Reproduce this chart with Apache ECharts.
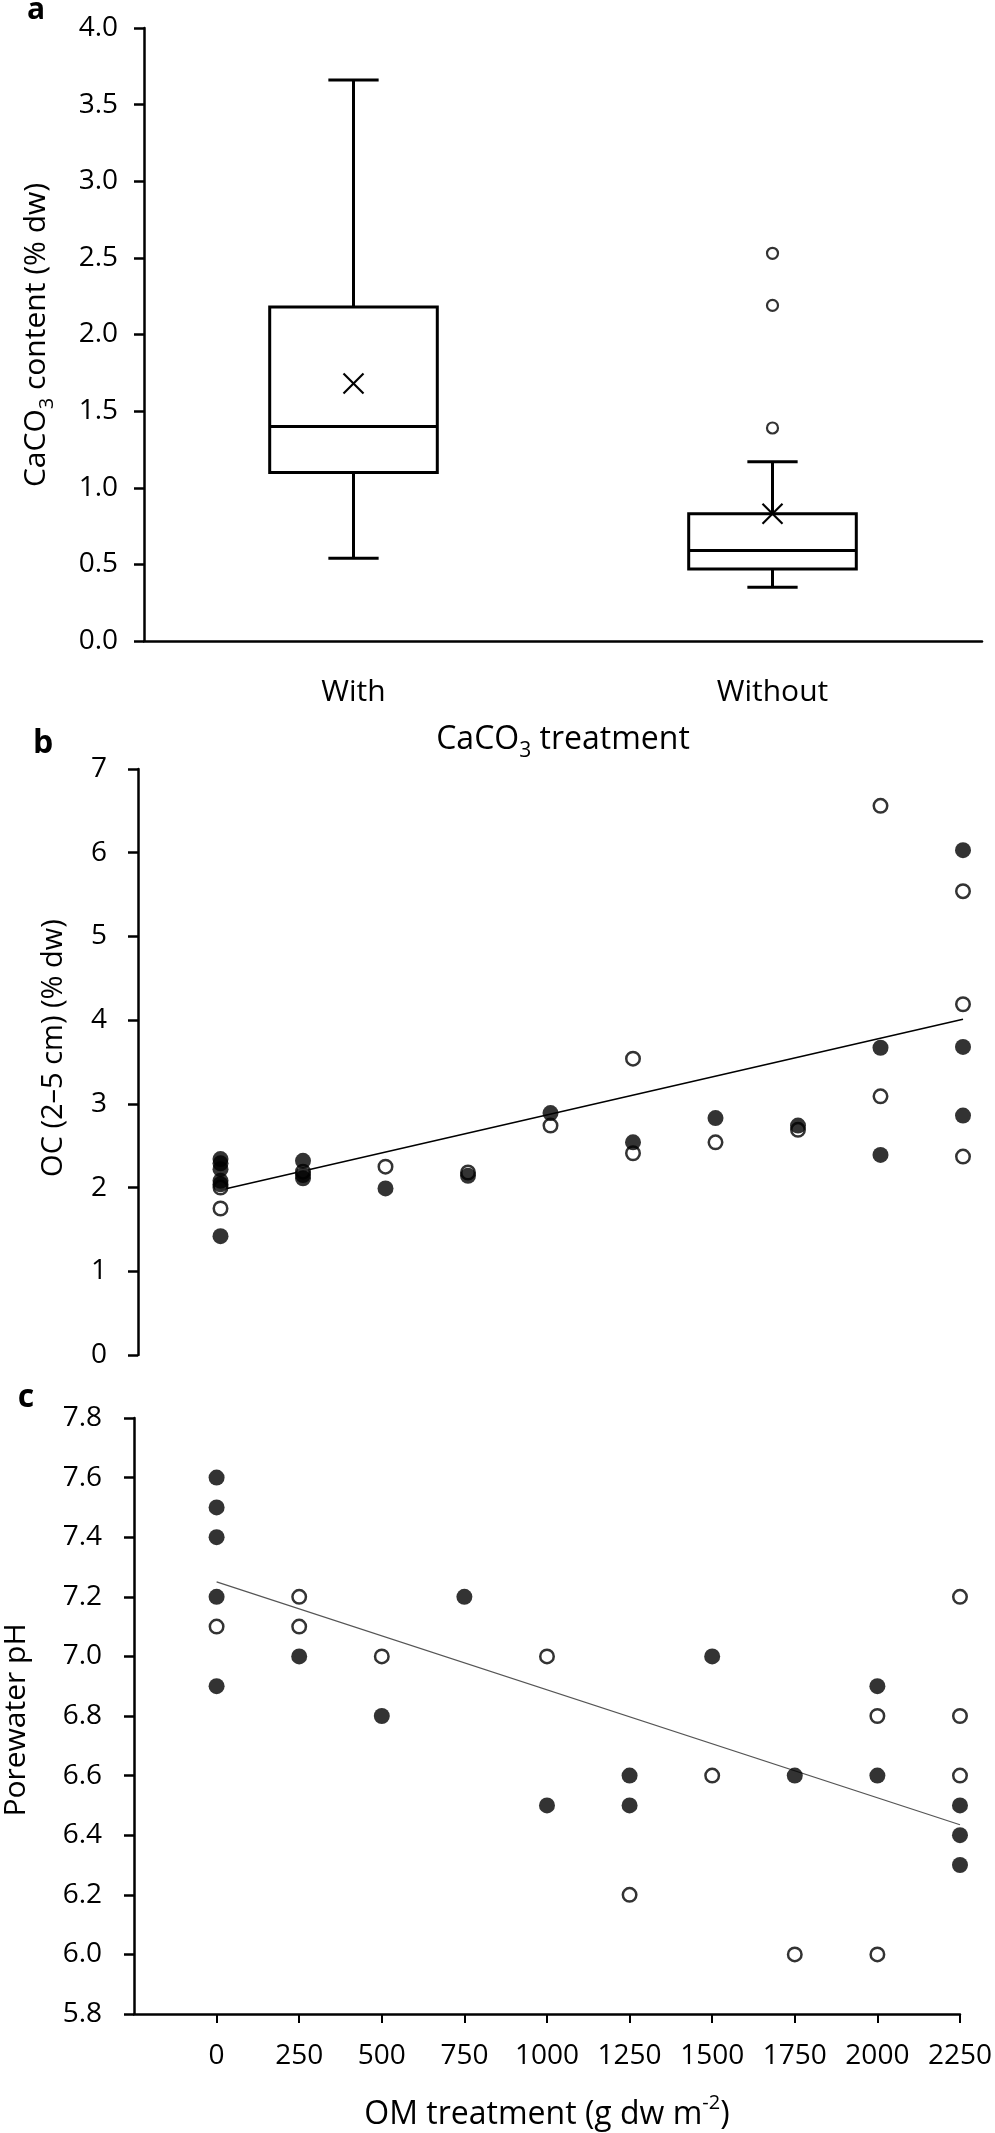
<!DOCTYPE html>
<html><head><meta charset="utf-8">
<script src="https://cdn.jsdelivr.net/npm/echarts@6/dist/echarts.min.js"></script>
<style>html,body{margin:0;padding:0;background:#fff}#c{width:995px;height:2133px}</style>
</head><body><div id="c"></div>
<script>
// ---------- Panel a: CaCO3 content box plots ----------
const boxCategories = ['With', 'Without'];
const boxMin    = [0.54, 0.35];
const boxQ1     = [1.10, 0.47];
const boxMedian = [1.40, 0.59];
const boxQ3     = [2.18, 0.83];
const boxMax    = [3.66, 1.17];
const boxMean   = [1.68, 0.83];
const outlierCategory = ['Without', 'Without', 'Without'];
const outlierValues   = [2.53, 2.19, 1.39];

// ---------- shared x ticks (OM treatment) ----------
const omTicks = [0, 250, 500, 750, 1000, 1250, 1500, 1750, 2000, 2250];

// ---------- Panel b: OC (2-5 cm) ----------
const ocFilledX = [0, 0, 0, 0, 0, 0, 250, 250, 250, 500, 750, 1000, 1250, 1500, 1750, 2000, 2000, 2250, 2250, 2250];
const ocFilledY = [2.34, 2.29, 2.22, 2.08, 2.04, 1.42, 2.32, 2.15, 2.11, 1.99, 2.14, 2.89, 2.54, 2.83, 2.74, 3.67, 2.39, 6.03, 3.68, 2.86];
const ocOpenX = [0, 0, 250, 500, 750, 1000, 1250, 1250, 1500, 1750, 2000, 2000, 2250, 2250, 2250];
const ocOpenY = [2.00, 1.75, 2.19, 2.25, 2.18, 2.74, 3.54, 2.41, 2.54, 2.69, 6.56, 3.09, 5.54, 4.19, 2.37];
const ocTrendX = [0, 2250];
const ocTrendY = [1.97, 4.01];

// ---------- Panel c: Porewater pH ----------
const phFilledX = [0, 0, 0, 0, 0, 250, 500, 750, 1000, 1250, 1250, 1500, 1750, 2000, 2000, 2250, 2250, 2250];
const phFilledY = [7.6, 7.5, 7.4, 7.2, 6.9, 7.0, 6.8, 7.2, 6.5, 6.6, 6.5, 7.0, 6.6, 6.9, 6.6, 6.5, 6.4, 6.3];
const phOpenX = [0, 250, 250, 500, 1000, 1250, 1500, 1750, 2000, 2000, 2250, 2250, 2250];
const phOpenY = [7.1, 7.2, 7.1, 7.0, 7.0, 6.2, 6.6, 6.0, 6.8, 6.0, 7.2, 6.8, 6.6];
const phTrendX = [0, 2250];
const phTrendY = [7.25, 6.435];

const FONT = 'Open Sans';
const zip = (xs, ys) => xs.map((x, i) => [x, ys[i]]);
const axisLine = { show: true, onZero: false, lineStyle: { color: '#000', width: 2.5 } };
const tickOut = { show: true, inside: false, length: 10, lineStyle: { color: '#000', width: 2.5 } };
const tickLabel = (size, margin, fmt) => ({ color: '#000', fontFamily: FONT, fontSize: size, margin: margin, formatter: fmt });
const richTitle = (size) => ({
  a: { fontFamily: FONT, fontSize: size, color: '#000', lineHeight: size + 12 },
  s: { fontFamily: FONT, fontSize: Math.round(size * 0.65), color: '#000', lineHeight: Math.round(size * 0.8), verticalAlign: 'bottom' },
  p: { fontFamily: FONT, fontSize: Math.round(size * 0.62), color: '#000', lineHeight: size + 12, verticalAlign: 'top', padding: [0, 0, 14, 0] }
});
const openStyle = { color: '#fff', borderColor: '#000', borderWidth: 2.5 };
const filledStyle = { color: '#000', borderColor: '#000', borderWidth: 0 };

const chart = echarts.init(document.getElementById('c'));
chart.setOption({
  animation: false,
  backgroundColor: '#fff',
  grid: [
    { left: 144, right: 13, top: 28, height: 613 },
    { left: 138, right: 32, top: 769, height: 586 },
    { left: 134, right: 34, top: 1418, height: 596 }
  ],
  xAxis: [
    {
      gridIndex: 0, type: 'category', data: boxCategories,
      axisLine: axisLine, axisTick: { show: false },
      axisLabel: { color: '#000', fontFamily: FONT, fontSize: 30, margin: 36 },
      name: '{a|CaCO}{s|3}{a| treatment}', nameLocation: 'middle', nameGap: 77,
      nameTextStyle: { rich: richTitle(32) }
    },
    { gridIndex: 1, type: 'value', min: -250, max: 2250, interval: 250, show: false },
    {
      gridIndex: 2, type: 'value', min: -250, max: 2250, interval: 250,
      axisLine: axisLine,
      axisTick: { show: true, inside: false, length: 9, customValues: omTicks, lineStyle: { color: '#000', width: 2 } },
      axisLabel: { color: '#000', fontFamily: FONT, fontSize: 28, margin: 28, customValues: omTicks,
        formatter: v => (v < 0 ? '' : String(v)) },
      splitLine: { show: false },
      name: '{a|OM treatment (g dw m}{p|-2}{a|)}', nameLocation: 'middle', nameGap: 79,
      nameTextStyle: { rich: richTitle(32) }
    }
  ],
  yAxis: [
    {
      gridIndex: 0, type: 'value', min: 0, max: 4, interval: 0.5,
      axisLine: axisLine, axisTick: tickOut, splitLine: { show: false },
      axisLabel: tickLabel(28, 26, v => v.toFixed(1))
    },
    {
      gridIndex: 1, type: 'value', min: 0, max: 7, interval: 1,
      axisLine: axisLine, axisTick: tickOut, splitLine: { show: false },
      axisLabel: tickLabel(28, 31, v => String(v))
    },
    {
      gridIndex: 2, type: 'value', min: 5.8, max: 7.8, interval: 0.2,
      axisLine: axisLine, axisTick: tickOut, splitLine: { show: false },
      axisLabel: tickLabel(28, 32, v => v.toFixed(1))
    }
  ],
  graphic: [
    { type: 'text', x: 36, y: 10, style: { text: 'a', fontFamily: FONT, fontWeight: 'bold', fontSize: 30, fill: '#000', align: 'center', verticalAlign: 'middle' } },
    { type: 'text', x: 43, y: 744, style: { text: 'b', fontFamily: FONT, fontWeight: 'bold', fontSize: 32, fill: '#000', align: 'center', verticalAlign: 'middle' } },
    { type: 'text', x: 26, y: 1398, style: { text: 'c', fontFamily: FONT, fontWeight: 'bold', fontSize: 32, fill: '#000', align: 'center', verticalAlign: 'middle' } },
    { type: 'text', x: 36, y: 335, rotation: Math.PI / 2,
      style: { text: '{a|CaCO}{s|3}{a| content (% dw)}', rich: richTitle(30), align: 'center', verticalAlign: 'middle' } },
    { type: 'text', x: 54, y: 1048, rotation: Math.PI / 2,
      style: { text: '{a|OC (2–5 cm) (% dw)}', rich: richTitle(29), align: 'center', verticalAlign: 'middle' } },
    { type: 'text', x: 16, y: 1720, rotation: Math.PI / 2,
      style: { text: '{a|Porewater pH}', rich: richTitle(30), align: 'center', verticalAlign: 'middle' } }
  ],
  series: [
    {
      type: 'custom', xAxisIndex: 0, yAxisIndex: 0,
      data: boxCategories.map((c, i) => [i, boxMin[i], boxQ1[i], boxMedian[i], boxQ3[i], boxMax[i], boxMean[i]]),
      encode: { x: 0, y: [1, 2, 3, 4, 5, 6] },
      renderItem: function (params, api) {
        const i = api.value(0);
        const band = api.size([1, 0])[0];
        const cx = api.coord([i, 0])[0];
        const y = k => api.coord([i, api.value(k)])[1];
        const hw = band * 0.2, cw = band * 0.06, m = 10;
        const yMin = y(1), yQ1 = y(2), yMed = y(3), yQ3 = y(4), yMax = y(5), yMean = y(6);
        const line = (x1, y1, x2, y2, lw) => ({ type: 'line', shape: { x1, y1, x2, y2 }, style: { stroke: '#000', lineWidth: lw || 3 } });
        return {
          type: 'group', children: [
            line(cx, yMax, cx, yQ3), line(cx, yQ1, cx, yMin),
            line(cx - cw, yMax, cx + cw, yMax), line(cx - cw, yMin, cx + cw, yMin),
            { type: 'rect', shape: { x: cx - hw, y: yQ3, width: 2 * hw, height: yQ1 - yQ3 }, style: { fill: '#fff', stroke: '#000', lineWidth: 3 } },
            line(cx - hw, yMed, cx + hw, yMed),
            line(cx - m, yMean - m, cx + m, yMean + m, 2.2), line(cx - m, yMean + m, cx + m, yMean - m, 2.2)
          ]
        };
      }
    },
    {
      type: 'scatter', xAxisIndex: 0, yAxisIndex: 0, symbol: 'circle', symbolSize: 11,
      itemStyle: { color: '#fff', borderColor: '#000', borderWidth: 2.2 },
      data: zip(outlierCategory, outlierValues)
    },
    {
      type: 'line', xAxisIndex: 1, yAxisIndex: 1, data: zip(ocTrendX, ocTrendY), symbol: 'none',
      lineStyle: { color: '#000', width: 1.6 }, z: 1
    },
    {
      type: 'scatter', xAxisIndex: 1, yAxisIndex: 1, symbol: 'circle', symbolSize: 13.5, clip: false,
      itemStyle: openStyle, data: zip(ocOpenX, ocOpenY), z: 2
    },
    {
      type: 'scatter', xAxisIndex: 1, yAxisIndex: 1, symbol: 'circle', symbolSize: 16, clip: false,
      itemStyle: filledStyle, data: zip(ocFilledX, ocFilledY), z: 3
    },
    {
      type: 'line', xAxisIndex: 2, yAxisIndex: 2, data: zip(phTrendX, phTrendY), symbol: 'none',
      lineStyle: { color: '#555', width: 1.2 }, z: 1
    },
    {
      type: 'scatter', xAxisIndex: 2, yAxisIndex: 2, symbol: 'circle', symbolSize: 13.5, clip: false,
      itemStyle: openStyle, data: zip(phOpenX, phOpenY), z: 2
    },
    {
      type: 'scatter', xAxisIndex: 2, yAxisIndex: 2, symbol: 'circle', symbolSize: 16, clip: false,
      itemStyle: filledStyle, data: zip(phFilledX, phFilledY), z: 3
    }
  ]
});
</script>
</body></html>
